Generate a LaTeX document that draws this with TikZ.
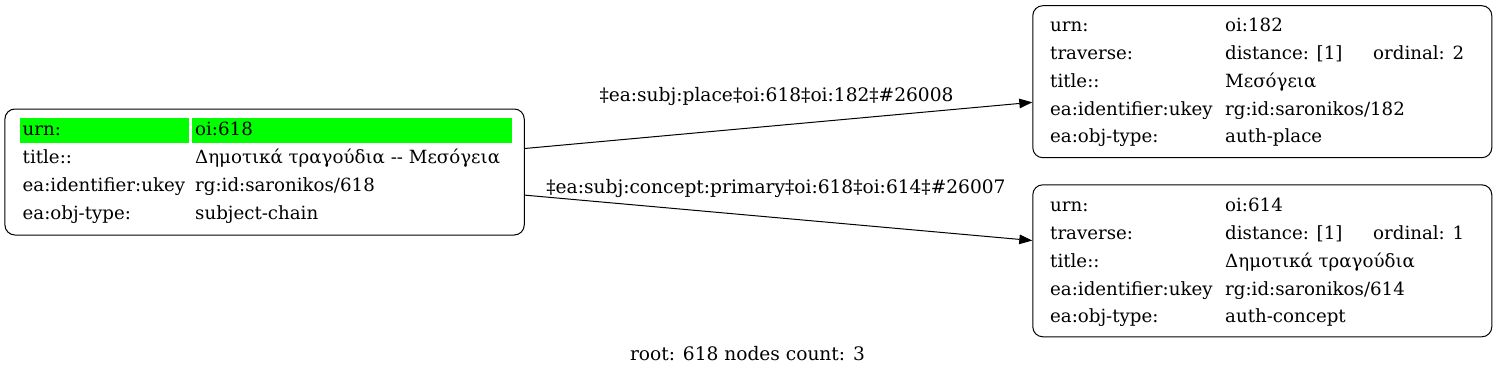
\documentclass[tikz,border=0pt]{standalone}
\usepackage{fontspec}
\setmainfont{DejaVu Serif}
\usepackage{xcolor}
\usetikzlibrary{arrows.meta,positioning,shapes}

\definecolor{rowgreen}{HTML}{00FF00}

\begin{document}
\begin{tikzpicture}[
  x=1pt,y=-1pt,
  box/.style={draw,rounded corners=10pt,line width=1pt,inner sep=0pt},
  cell/.style={fill=rowgreen,inner sep=0pt,minimum height=25.4pt,anchor=north west},
  txt/.style={anchor=base west,inner sep=0pt,font=\fontsize{18.2}{21}\selectfont},
  lab/.style={anchor=base,inner sep=0pt,font=\fontsize{18.6}{21}\selectfont},
  >={Triangle[length=13pt,width=9.5pt]}
]
\useasboundingbox (0,0) rectangle (1497,375);
% Boxes
\node[box,minimum width=519.3pt,minimum height=126pt] (n618) at (264.6,172) {};
\node[box,minimum width=459pt,minimum height=152pt] (n182) at (1262.3,81.7) {};
\node[box,minimum width=459pt,minimum height=152pt] (n614) at (1262.3,260.8) {};
% Root row highlight
\node[cell,minimum width=169pt] (g1) at (19.3,117.3) {};
\node[cell,minimum width=320.4pt] (g2) at (191.3,117.3) {};
% Root: oi:618
\node[txt] (k1) at (22.5,135) {urn:};
\node[txt] (v1) at (195,135) {oi:618};
\node[txt] (k2) at (22.5,163) {title::};
\node[txt] (v2) at (195,163) {Δημοτικά τραγούδια -{}- Μεσόγεια};
\node[txt] (k3) at (22.5,191) {ea:identifier:ukey};
\node[txt] (v3) at (195,191) {rg:id:saronikos/618};
\node[txt] (k4) at (22.5,219) {ea:obj-type:};
\node[txt] (v4) at (195,219) {subject-chain};
% oi:182
\node[txt] (a1) at (1050,31.7) {urn:};
\node[txt] (b1) at (1225,31.7) {oi:182};
\node[txt] (a2) at (1050,59.5) {traverse:};
\node[txt] (b2) at (1225,59.5) {distance: [1]};
\node[txt] (c2) at (1373,59.5) {ordinal: 2};
\node[txt] (a3) at (1050,87.3) {title::};
\node[txt] (b3) at (1225,87.3) {Μεσόγεια};
\node[txt] (a4) at (1050,115.1) {ea:identifier:ukey};
\node[txt] (b4) at (1225,115.1) {rg:id:saronikos/182};
\node[txt] (a5) at (1050,142.9) {ea:obj-type:};
\node[txt] (b5) at (1225,142.9) {auth-place};
% oi:614
\node[txt] (d1) at (1050,211.7) {urn:};
\node[txt] (e1) at (1225,211.7) {oi:614};
\node[txt] (d2) at (1050,239.5) {traverse:};
\node[txt] (e2) at (1225,239.5) {distance: [1]};
\node[txt] (f2) at (1373,239.5) {ordinal: 1};
\node[txt] (d3) at (1050,267.3) {title::};
\node[txt] (e3) at (1225,267.3) {Δημοτικά τραγούδια};
\node[txt] (d4) at (1050,295.1) {ea:identifier:ukey};
\node[txt] (e4) at (1225,295.1) {rg:id:saronikos/614};
\node[txt] (d5) at (1050,322.9) {ea:obj-type:};
\node[txt] (e5) at (1225,322.9) {auth-concept};
% Edge labels
\node[lab] (l182) at (776.5,101.7) {‡ea:subj:place‡oi:618‡oi:182‡\#26008};
\node[lab] (l614) at (776,193) {‡ea:subj:concept:primary‡oi:618‡oi:614‡\#26007};
\node[lab] (cnt) at (747.5,360) {root: 618 nodes count: 3};
% Edges
\draw[->,line width=1pt] (n618) -- (n182);
\draw[->,line width=1pt] (n618) -- (n614);
\end{tikzpicture}
\end{document}
